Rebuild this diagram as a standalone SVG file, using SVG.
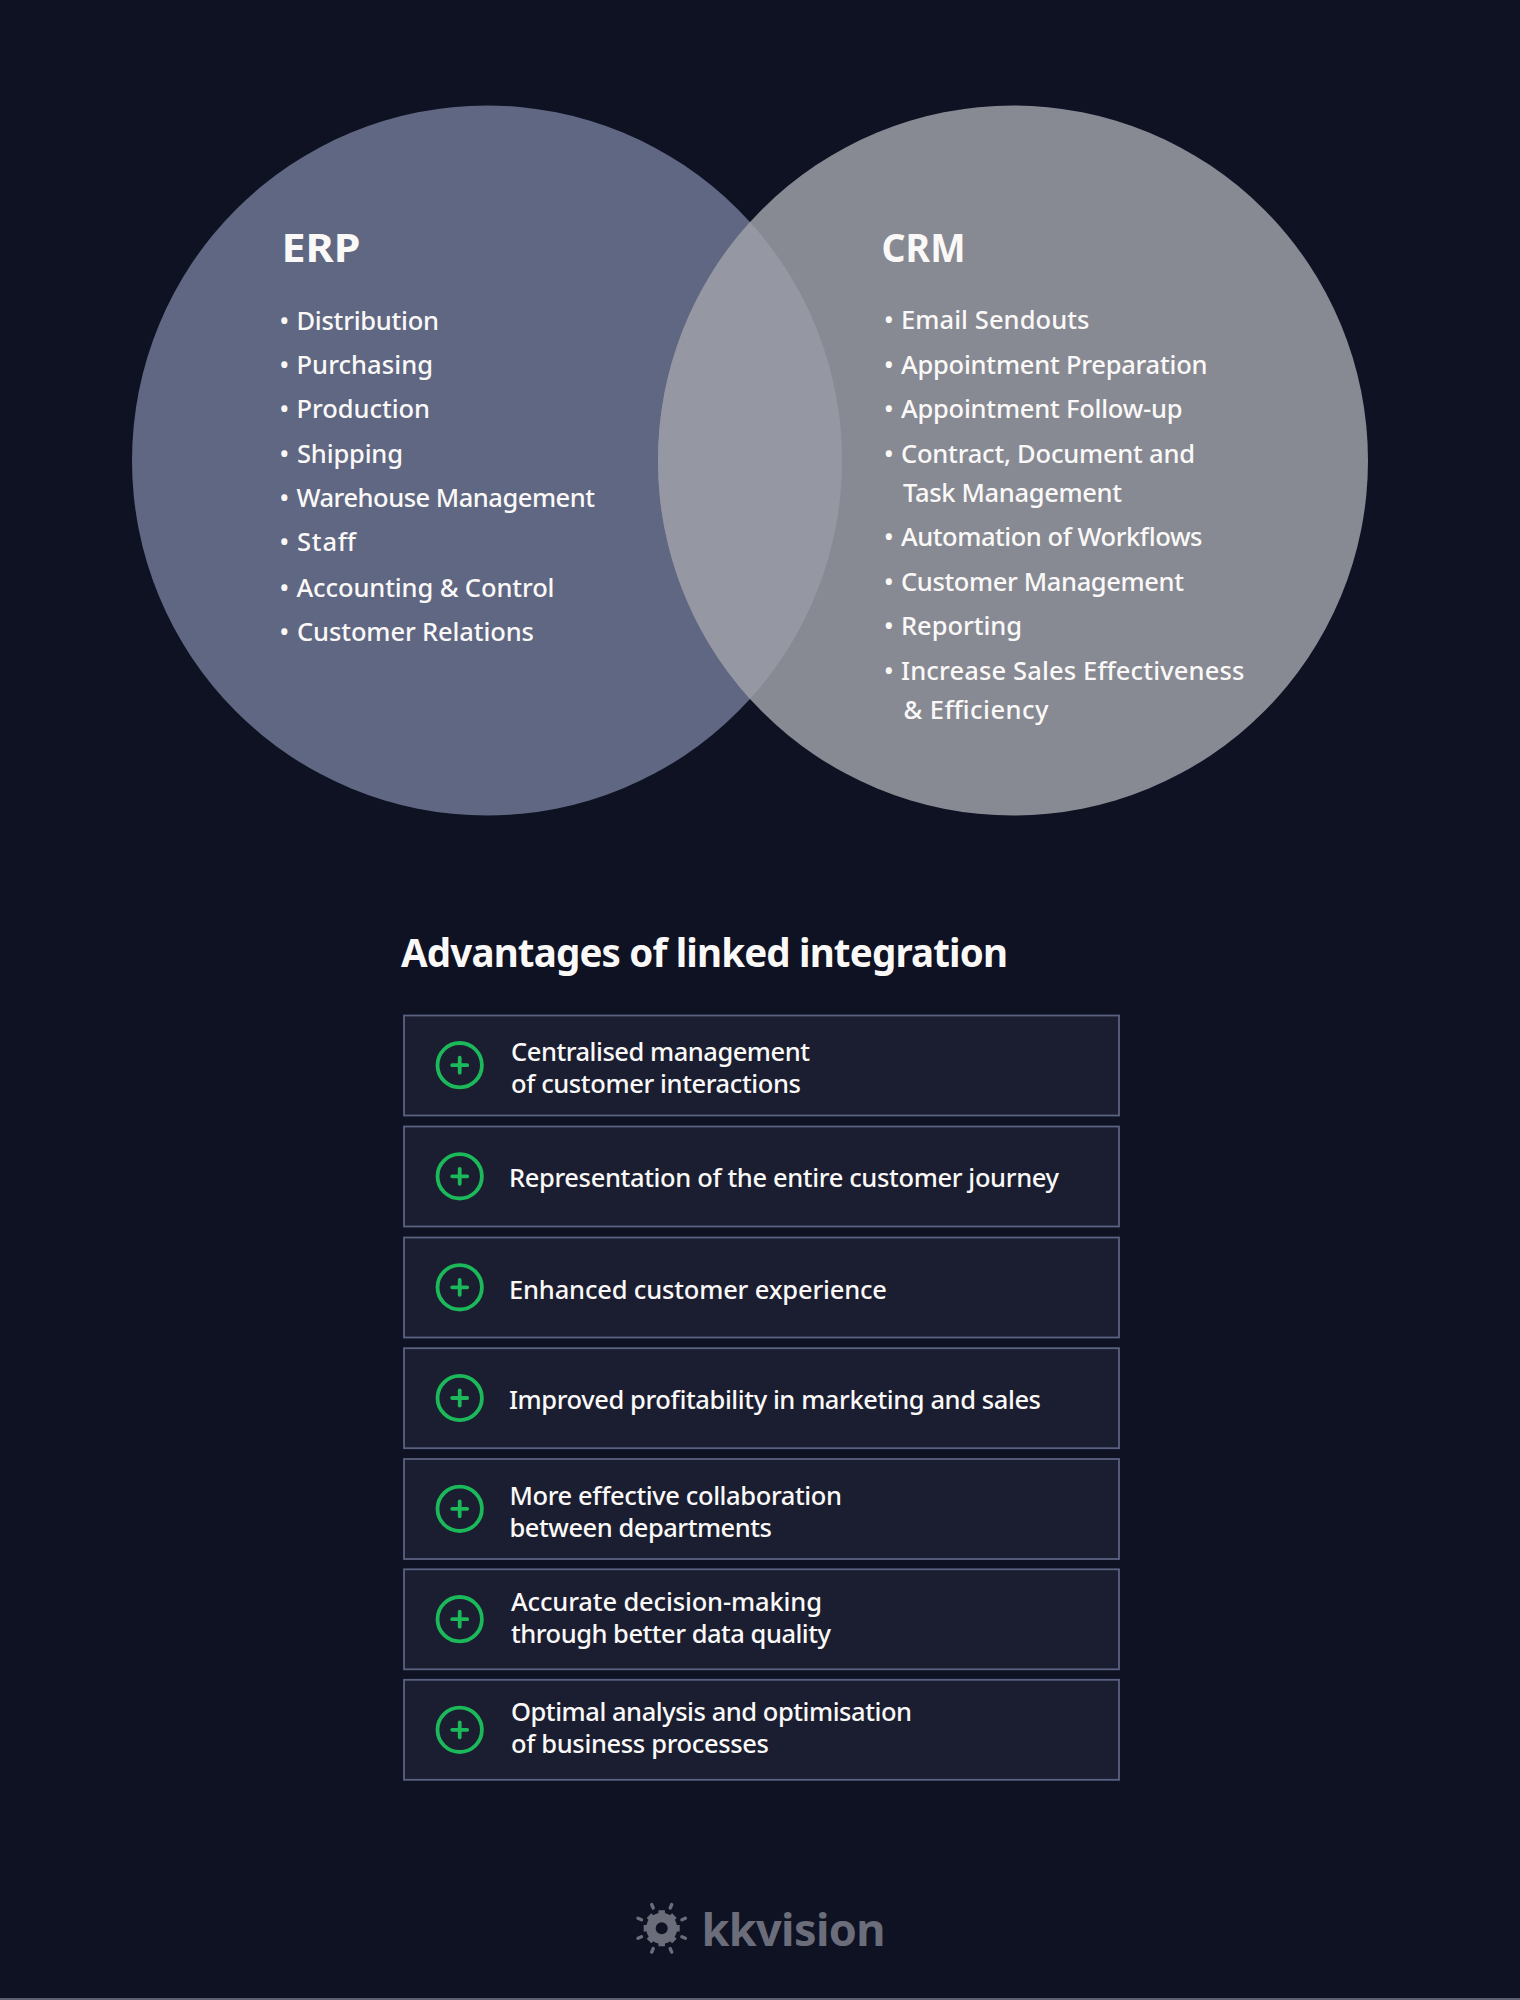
<svg xmlns="http://www.w3.org/2000/svg" width="1520" height="2000" viewBox="0 0 1520 2000">
<style>
text{font-family:"Noto Sans","Open Sans",sans-serif;fill:#fbf9f8}
.h{font-size:38.500px;font-weight:700}
.t{font-size:25.500px;font-weight:500}
.b{fill:#1a1e30;stroke:#5b6180;stroke-width:1.800}
.c{fill:none;stroke:#1cb95a;stroke-width:3.800}
.p{fill:none;stroke:#1cb95a;stroke-width:3.800;stroke-linecap:round}
.ray{fill:none;stroke:#6b6d7b;stroke-width:3.400;stroke-linecap:round}
</style>
<defs>
<g id="plus"><circle class="c" cx="0" cy="0" r="22.200"/><path class="p" d="M-7.500 0H7.500M0-7.500V7.500"/></g>
</defs>
<rect width="1520" height="2000" fill="#0e1223"/>
<rect y="1998" width="1520" height="2" fill="#5e6070"/>
<g id="erp">
<circle cx="487" cy="460.500" r="355" fill="#5f6782"/>
<text class="h" x="281.500" y="261.500" textLength="79" lengthAdjust="spacingAndGlyphs">ERP</text>
<text class="t" y="329.500"><tspan x="279.500">•</tspan><tspan x="296.500" textLength="142.500">Distribution</tspan></text>
<text class="t" y="374"><tspan x="279.500">•</tspan><tspan x="296.500" textLength="136.500">Purchasing</tspan></text>
<text class="t" y="418"><tspan x="279.500">•</tspan><tspan x="296.500" textLength="133.500">Production</tspan></text>
<text class="t" y="463"><tspan x="279.500">•</tspan><tspan x="297" textLength="106">Shipping</tspan></text>
<text class="t" y="507"><tspan x="279.500">•</tspan><tspan x="296.500" textLength="298.500">Warehouse Management</tspan></text>
<text class="t" y="551"><tspan x="279.500">•</tspan><tspan x="297" textLength="59">Staff</tspan></text>
<text class="t" y="596.500"><tspan x="279.500">•</tspan><tspan x="296.500" textLength="258">Accounting &amp; Control</tspan></text>
<text class="t" y="641"><tspan x="279.500">•</tspan><tspan x="297" textLength="237">Customer Relations</tspan></text>
</g>
<g id="crm">
<circle cx="1013" cy="460.500" r="355" fill="#878a93"/>
<path d="M750 222A355 355 0 0 1 750 699A355 355 0 0 1 750 222Z" fill="#9597a2"/>
<text class="h" x="881.500" y="261.500" textLength="84" lengthAdjust="spacingAndGlyphs">CRM</text>
<text class="t" y="329"><tspan x="884">•</tspan><tspan x="901" textLength="188.500">Email Sendouts</tspan></text>
<text class="t" y="374"><tspan x="884">•</tspan><tspan x="901" textLength="306.500">Appointment Preparation</tspan></text>
<text class="t" y="418"><tspan x="884">•</tspan><tspan x="901" textLength="281.500">Appointment Follow-up</tspan></text>
<text class="t" y="463"><tspan x="884">•</tspan><tspan x="901" textLength="294">Contract, Document and</tspan></text>
<text class="t" x="903" y="502" textLength="219">Task Management</text>
<text class="t" y="546"><tspan x="884">•</tspan><tspan x="901" textLength="301.500">Automation of Workflows</tspan></text>
<text class="t" y="591"><tspan x="884">•</tspan><tspan x="901" textLength="283">Customer Management</tspan></text>
<text class="t" y="635"><tspan x="884">•</tspan><tspan x="901" textLength="121">Reporting</tspan></text>
<text class="t" y="680"><tspan x="884">•</tspan><tspan x="901" textLength="343.500">Increase Sales Effectiveness</tspan></text>
<text class="t" x="903.500" y="719" textLength="145">&amp; Efficiency</text>
</g>
<text class="h" x="401" y="967" textLength="607">Advantages of linked integration</text>
<g id="a1"><rect class="b" x="404" y="1015.500" width="715" height="100"/><use href="#plus" x="459.700" y="1065.200"/>
<text class="t" x="511" y="1061" textLength="299">Centralised management</text><text class="t" x="511" y="1093" textLength="290">of customer interactions</text></g>
<g id="a2"><rect class="b" x="404" y="1126.500" width="715" height="100"/><use href="#plus" x="459.700" y="1176.300"/>
<text class="t" x="509" y="1187" textLength="550">Representation of the entire customer journey</text></g>
<g id="a3"><rect class="b" x="404" y="1237.500" width="715" height="100"/><use href="#plus" x="459.700" y="1287.300"/>
<text class="t" x="509" y="1299" textLength="378">Enhanced customer experience</text></g>
<g id="a4"><rect class="b" x="404" y="1348.200" width="715" height="100"/><use href="#plus" x="459.700" y="1398"/>
<text class="t" x="509" y="1409" textLength="532">Improved profitability in marketing and sales</text></g>
<g id="a5"><rect class="b" x="404" y="1459" width="715" height="100"/><use href="#plus" x="459.700" y="1508.800"/>
<text class="t" x="509.500" y="1505" textLength="332.500">More effective collaboration</text><text class="t" x="509.500" y="1537" textLength="262.500">between departments</text></g>
<g id="a6"><rect class="b" x="404" y="1569.300" width="715" height="100"/><use href="#plus" x="459.700" y="1619.200"/>
<text class="t" x="511" y="1610.500" textLength="311">Accurate decision-making</text><text class="t" x="511" y="1642.500" textLength="320">through better data quality</text></g>
<g id="a7"><rect class="b" x="404" y="1679.800" width="715" height="100"/><use href="#plus" x="459.700" y="1729.800"/>
<text class="t" x="511" y="1720.500" textLength="401">Optimal analysis and optimisation</text><text class="t" x="511" y="1752.500" textLength="258">of business processes</text></g>
<g id="logo">
<circle cx="661.700" cy="1928.300" r="15.500" fill="#6b6d7b"/>
<g stroke="#6b6d7b" stroke-width="6.500"><path d="M661.700 1910.300v6M661.700 1940.300v6M643.700 1928.300h6M673.700 1928.300h6M649 1915.600l4.300 4.300M674.400 1915.600l-4.300 4.300M649 1941l4.300-4.300M674.400 1941l-4.300-4.300"/></g>
<circle cx="661.700" cy="1928.300" r="6" fill="#0e1223"/>
<path class="ray" d="M653.200 1908l-1.500-3.500M670.200 1908l1.500-3.500M641.500 1919.800l-3.500-1.500M681.900 1919.800l3.500-1.500M641.500 1936.800l-3.500 1.500M681.900 1936.800l3.500 1.500M653.200 1948.600l-1.500 3.500M670.200 1948.600l1.500 3.500"/>
<text x="701.500" y="1945.500" style="fill:#6b6d7b;font-size:45px;font-weight:700" textLength="184">kkvision</text>
</g>
</svg>
